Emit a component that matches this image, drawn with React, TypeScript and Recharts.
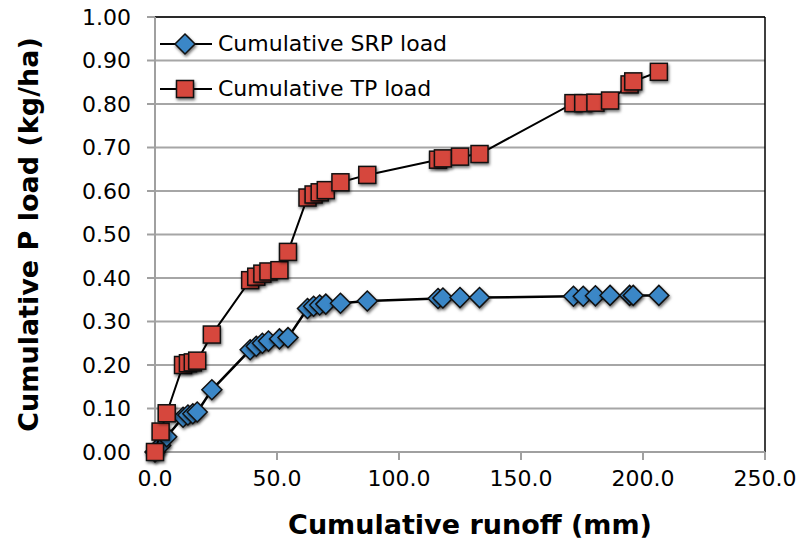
import {
  ScatterChart,
  Scatter,
  XAxis,
  YAxis,
  CartesianGrid,
  ReferenceLine,
} from "recharts";

// cumulative runoff (mm) shared by both series
const runoff = [
  0, 2.3, 4.8, 11.5, 13.5, 15.5, 17.3, 23.3, 39, 41.5, 44, 46.5, 51, 54.5,
  62.5, 65, 67.5, 70, 76, 87, 116, 118, 125, 133, 171.5, 175.5, 180.5, 186.5,
  194.5, 196, 206.5,
];
const srpLoad = [
  0, 0.015, 0.035, 0.08, 0.085, 0.088, 0.092, 0.143, 0.235, 0.243, 0.25, 0.255,
  0.26, 0.263, 0.33, 0.335, 0.338, 0.34, 0.342, 0.347, 0.353, 0.354, 0.355,
  0.355, 0.358, 0.358, 0.359, 0.36, 0.36, 0.36, 0.36,
];
const tpLoad = [
  0, 0.047, 0.089, 0.2, 0.204, 0.206, 0.21, 0.27, 0.395, 0.403, 0.41, 0.415,
  0.418, 0.46, 0.585, 0.592, 0.597, 0.602, 0.62, 0.637, 0.672, 0.675, 0.679,
  0.685, 0.802, 0.802, 0.803, 0.808, 0.845, 0.852, 0.874,
];
const seriesNames = ["Cumulative SRP load", "Cumulative TP load"];
const xTicks = [0, 50, 100, 150, 200, 250];
const yTicks = [0, 0.1, 0.2, 0.3, 0.4, 0.5, 0.6, 0.7, 0.8, 0.9, 1.0];

const BLUE = "#3b87c7";
const RED = "#d6473d";
const FONT = "'DejaVu Sans', sans-serif";
const SHADOW = "drop-shadow(1px 2px 1.5px rgba(0,0,0,0.55))";

const srpData = runoff.map((x, i) => ({ x, y: srpLoad[i] }));
const tpData = runoff.map((x, i) => ({ x, y: tpLoad[i] }));

function Diamond(props: any) {
  const { cx, cy } = props;
  const r = 10;
  return (
    <polygon
      points={`${cx},${cy - r} ${cx + r},${cy} ${cx},${cy + r} ${cx - r},${cy}`}
      fill={BLUE}
      stroke="#111"
      strokeWidth={1.5}
      style={{ filter: SHADOW }}
    />
  );
}

function Square(props: any) {
  const { cx, cy } = props;
  const s = 17;
  return (
    <rect
      x={cx - s / 2}
      y={cy - s / 2}
      width={s}
      height={s}
      fill={RED}
      stroke="#111"
      strokeWidth={1.5}
      style={{ filter: SHADOW }}
    />
  );
}

function LegendBox() {
  const rows = [
    { name: seriesNames[0], Shape: Diamond },
    { name: seriesNames[1], Shape: Square },
  ];
  return (
    <div
      style={{
        position: "absolute",
        left: 158,
        top: 21,
        fontFamily: FONT,
        fontSize: 22,
      }}
    >
      {rows.map(({ name, Shape }) => (
        <div
          key={name}
          style={{ display: "flex", alignItems: "center", height: 45 }}
        >
          <svg width={58} height={30} style={{ overflow: "visible" }}>
            <line x1={2} y1={15} x2={54} y2={15} stroke="#000" strokeWidth={2} />
            <Shape cx={27} cy={15} />
          </svg>
          <span style={{ marginLeft: 2, color: "#000" }}>{name}</span>
        </div>
      ))}
    </div>
  );
}

export default function App() {
  return (
    <div
      style={{
        position: "absolute",
        left: 0,
        top: 0,
        width: 800,
        height: 548,
        background: "#fff",
      }}
    >
      <ScatterChart
        width={800}
        height={548}
        margin={{ top: 17, right: 35, left: 0, bottom: 0 }}
        style={{ fontFamily: FONT }}
      >
        <CartesianGrid
          vertical={false}
          stroke="#a6a6a6"
          strokeWidth={2}
          horizontalValues={yTicks}
        />
        <XAxis
          type="number"
          dataKey="x"
          domain={[0, 250]}
          ticks={xTicks}
          tickFormatter={(v: number) => v.toFixed(1)}
          height={96}
          stroke="#a0a0a0"
          strokeWidth={2}
          tickSize={8}
          tickMargin={10}
          tick={{ fill: "#000", fontSize: 22 }}
          label={{
            value: "Cumulative runoff (mm)",
            position: "insideBottom",
            offset: 14,
            dx: 10,
            style: { fill: "#000", fontSize: 27, fontWeight: "bold" },
          }}
        />
        <YAxis
          type="number"
          dataKey="y"
          domain={[0, 1]}
          ticks={yTicks}
          tickFormatter={(v: number) => v.toFixed(2)}
          width={155}
          stroke="#a0a0a0"
          strokeWidth={2}
          tickSize={8}
          tickMargin={16}
          tick={{ fill: "#000", fontSize: 22 }}
          label={{
            value: "Cumulative P load (kg/ha)",
            angle: -90,
            position: "insideLeft",
            offset: 28,
            style: {
              fill: "#000",
              fontSize: 27,
              fontWeight: "bold",
              textAnchor: "middle",
            },
          }}
        />
        <ReferenceLine y={1} stroke="#000" strokeWidth={1.5} />
        <ReferenceLine x={250} stroke="#000" strokeWidth={1.5} />
        <Scatter
          name={seriesNames[0]}
          data={srpData}
          line={{ stroke: "#000", strokeWidth: 2.5 }}
          lineType="joint"
          shape={Diamond}
          isAnimationActive={false}
        />
        <Scatter
          name={seriesNames[1]}
          data={tpData}
          line={{ stroke: "#000", strokeWidth: 2 }}
          lineType="joint"
          shape={Square}
          isAnimationActive={false}
        />
      </ScatterChart>
      <LegendBox />
    </div>
  );
}
